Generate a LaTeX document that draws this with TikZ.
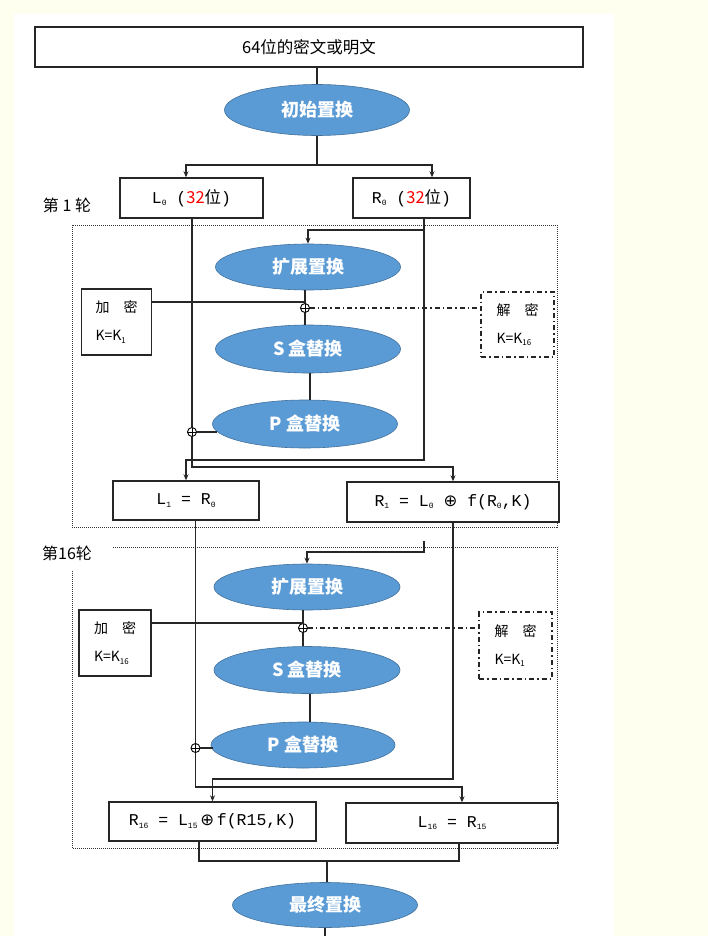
\documentclass[tikz,border=0pt]{standalone}
\usepackage{fontspec}
\setmainfont{Noto Sans CJK SC}
\newfontfamily\mono{Liberation Mono}
\newfontfamily\dejavu{DejaVu Sans}
\usetikzlibrary{shapes.geometric,arrows.meta}
\definecolor{bgc}{RGB}{255,255,240}
\definecolor{ovalc}{RGB}{91,155,213}
\definecolor{ovald}{RGB}{65,113,156}
\newcommand{\sbs}[1]{\raisebox{-0.3ex}{\fontsize{8}{8}\selectfont #1}}
\begin{document}
\begin{tikzpicture}[x=1pt,y=-1pt,
  ln/.style={line width=1.3pt, draw=black!85},
  arr/.style={ln, -{Stealth[length=6pt,width=5pt]}},
  box/.style={draw=black!85, line width=1.4pt, fill=white, inner sep=0pt, align=center},
  oval/.style={ellipse, fill=ovalc, draw=ovald, line width=0.6pt, inner sep=0pt, text=white, font=\fontsize{18}{18}\selectfont\bfseries},
  xorn/.style={circle, draw=black, line width=0.9pt, minimum size=9pt, inner sep=0pt, fill=white,
    path picture={\draw[line width=0.8pt] (path picture bounding box.north) -- (path picture bounding box.south) (path picture bounding box.west) -- (path picture bounding box.east);}},
  frm/.style={draw=black!80, line width=0.9pt, dash pattern=on 1pt off 1pt},
  dd/.style={draw=black!85, line width=1.3pt, dash pattern=on 5pt off 3pt on 1.5pt off 3pt},
  ddbox/.style={dd, fill=white, inner sep=0pt, align=left},
  bt/.style={font=\fontsize{16.5}{16.5}\selectfont},
  kt/.style={font=\fontsize{14}{28}\selectfont, align=left},
  lab/.style={font=\fontsize{16}{16}\selectfont}
]
\fill[bgc] (0,0) rectangle (708,936);
\fill[white] (14,14) rectangle (614,936);
\useasboundingbox (0,0) rectangle (708,936);

% frames
\draw[frm] (72,225) rectangle (557,527);
\draw[frm] (113,547) -- (557,547) -- (557,848) -- (72,848) -- (72,570);
\node[lab] (rd1) at (67,205) {第 1 轮};
\node[lab] (rd16) at (67,553) {第16轮};

% top part
\node[box, minimum width=548pt, minimum height=40pt, font=\fontsize{16.5}{16.5}\selectfont] (top) at (309,47) {64位的密文或明文};
\node[oval, minimum width=185pt, minimum height=51pt] (init) at (317,110) {初始置换};
\node[box, minimum width=143pt, minimum height=40pt, bt] (L0) at (191.5,198) {{\mono L\sbs{0} (}\textcolor{red}{32}位{\mono )}};
\node[box, minimum width=117pt, minimum height=40pt, bt] (R0) at (411.5,198) {{\mono R\sbs{0} (}\textcolor{red}{32}位{\mono )}};

% round 1
\node[oval, minimum width=185pt, minimum height=46pt] (exp1) at (308,267) {扩展置换};
\node[xorn] (xa1) at (305,308) {};
\node[oval, minimum width=185pt, minimum height=48pt] (S1) at (308,349) {S 盒替换};
\node[oval, minimum width=185pt, minimum height=48pt] (P1) at (305,424) {P 盒替换};
\node[xorn] (xb1) at (192,432) {};
\node[box, minimum width=70pt, minimum height=66pt, kt] (enc1) at (116.5,322) {加\quad 密\\K=K\sbs{1}};
\node[ddbox, minimum width=73pt, minimum height=65pt, kt] (dec1) at (517.5,324.5) {解\quad 密\\K=K\sbs{16}};
\node[box, minimum width=146pt, minimum height=39pt, bt] (L1) at (186,500.5) {\mono L\sbs{1} = R\sbs{0}};
\node[box, minimum width=212pt, minimum height=40pt, bt] (R1) at (453,502) {{\mono R\sbs{1} = L\sbs{0} }{\dejavu ⊕}{\mono\ f(R\sbs{0},K)}};

% round 16
\node[oval, minimum width=186pt, minimum height=46pt] (exp16) at (307,587) {扩展置换};
\node[xorn] (xa16) at (303,628) {};
\node[oval, minimum width=186pt, minimum height=47pt] (S16) at (307,670) {S 盒替换};
\node[oval, minimum width=184pt, minimum height=46pt] (P16) at (303,745) {P 盒替换};
\node[xorn] (xb16) at (195.5,748) {};
\node[box, minimum width=72pt, minimum height=66pt, kt] (enc16) at (115,643) {加\quad 密\\K=K\sbs{16}};
\node[ddbox, minimum width=73pt, minimum height=67pt, kt] (dec16) at (515.5,645.5) {解\quad 密\\K=K\sbs{1}};
\node[box, minimum width=207pt, minimum height=39pt, bt] (R16) at (212.5,821.5) {{\mono R\sbs{16} = L\sbs{15}}\,{\dejavu ⊕}\,{\mono f(R15,K)}};
\node[box, minimum width=212pt, minimum height=40pt, bt] (L16) at (452,823) {\mono L\sbs{16} = R\sbs{15}};
\node[oval, minimum width=185pt, minimum height=45pt] (final) at (325,905) {最终置换};

% coordinates
\coordinate (sp) at (317,165);
\coordinate (r0br) at (424,230);
\coordinate (r0turn) at (424,460);
\coordinate (l0turn) at (192,467);
\coordinate (r1turn) at (453,779);
\coordinate (stub) at (424,541);
\coordinate (stubb) at (424,552);
\coordinate (l1turn) at (195.5,787);
\coordinate (mg) at (327,861);
\coordinate (out) at (328,936);

% connectors top
\draw[ln] (init.north |- top.south) -- (init.north);
\draw[ln] (init.south) -- (sp);
\draw[arr] (sp) -| ([xshift=-5.5pt]L0.north);
\draw[arr] (sp) -| ([xshift=20.5pt]R0.north);

% round 1 connectors
\draw[arr] ([xshift=12.5pt]R0.south) -- (r0turn) -| (L1.north);
\draw[arr] (r0br) -| (exp1.north);
\draw[ln] (xa1.north |- exp1.south) -- (xa1.north);
\draw[ln] (xa1.south) -- (xa1.south |- S1.north);
\draw[ln] ([xshift=2pt]S1.south) -- ([xshift=2pt]S1.south |- P1.north);
\draw[ln] ([yshift=20pt]enc1.east) -| (xa1.north);
\draw[dd] (xa1.east) -- (xa1.east -| dec1.west);
\draw[ln] (xb1.north |- L0.south) -- (xb1.north);
\draw[ln] (xb1.east) -- ([xshift=5pt]xb1.east -| P1.west);
\draw[arr] (xb1.south) -- (l0turn) -| (R1.north);

% round 16 connectors
\draw[arr] (R1.south) -- (r1turn) -| (R16.north);
\draw[arr] (stub) -- (stubb) -| (exp16.north);
\draw[ln] (xa16.north |- exp16.south) -- (xa16.north);
\draw[ln] (xa16.south) -- (xa16.south |- S16.north);
\draw[ln] ([xshift=3pt]S16.south) -- ([xshift=3pt]S16.south |- P16.north);
\draw[ln] ([yshift=20pt]enc16.east) -| (xa16.north);
\draw[dd] (xa16.east) -- (xa16.east -| dec16.west);
\draw[ln] (xb16.north |- L1.south) -- (xb16.north);
\draw[ln] (xb16.east) -- ([xshift=2pt]xb16.east -| P16.west);
\draw[arr] (xb16.south) -- (l1turn) -| ([xshift=10pt]L16.north);

% merge
\draw[ln] ([xshift=-13.5pt]R16.south) |- (mg) -| ([xshift=7pt]L16.south);
\draw[ln] (mg) -- (mg |- final.north);
\draw[ln] (final.south) -- (final.south |- out);
\end{tikzpicture}
\end{document}
